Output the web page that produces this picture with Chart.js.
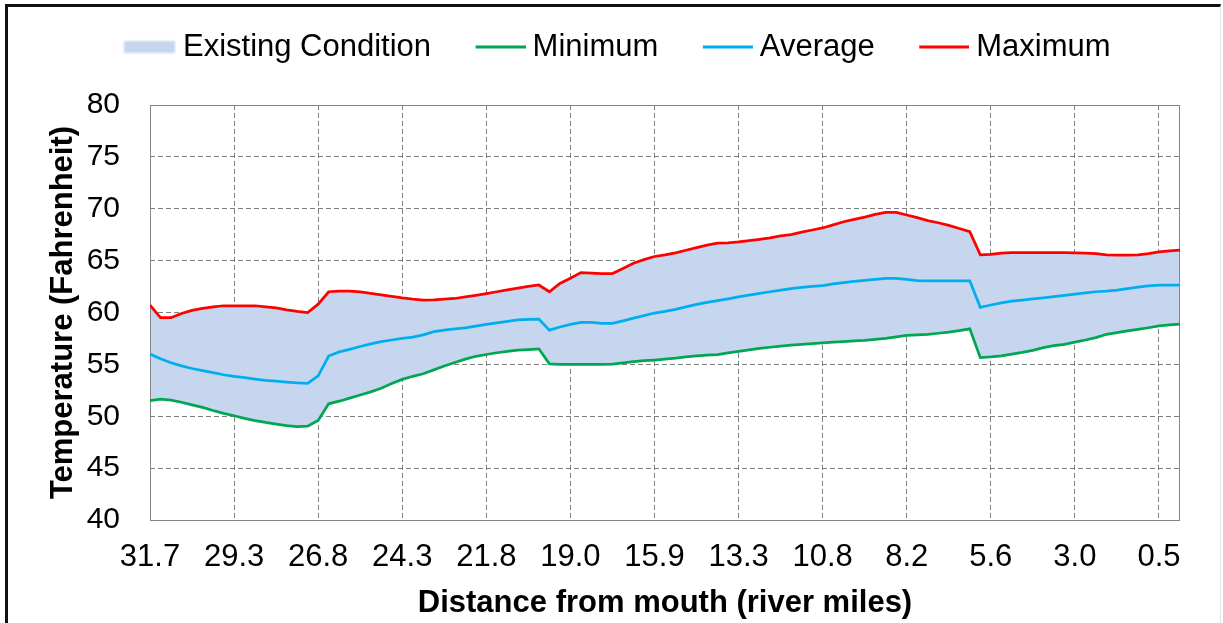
<!DOCTYPE html>
<html>
<head>
<meta charset="utf-8">
<script src="https://cdn.jsdelivr.net/npm/chart.js@4.4.1/dist/chart.umd.min.js"></script>
<style>
  html, body { margin: 0; padding: 0; background: #fff; overflow: hidden; }
  #wrap { position: relative; width: 1223px; height: 623px; }
  #frame { position: absolute; left: 5px; top: 4px; width: 1212px; height: 700px;
           border-top: 3px solid #111; border-left: 3px solid #111; border-right: 1px solid #e4e4e4;
           pointer-events: none; }
  canvas { position: absolute; left: 0; top: 0; }
</style>
</head>
<body>
<div id="wrap">
  <canvas id="chart" width="1223" height="623"></canvas>
  <div id="frame"></div>
</div>
<script>
// river mile labels, one every 8 model points
const tickLabels = ['31.7', '29.3', '26.8', '24.3', '21.8', '19.0', '15.9', '13.3', '10.8', '8.2', '5.6', '3.0', '0.5'];
const pointsPerLabel = 8;

// temperatures (F), one per model point (upstream -> mouth)
const maxTemps = [
  60.7, 59.5, 59.5, 59.9, 60.2, 60.4, 60.55, 60.65, 60.65, 60.65,
  60.65, 60.55, 60.45, 60.25, 60.1, 60.0, 60.8, 62.0, 62.05, 62.05,
  61.98, 61.85, 61.7, 61.55, 61.4, 61.28, 61.2, 61.22, 61.28, 61.35,
  61.5, 61.65, 61.82, 62.0, 62.18, 62.35, 62.52, 62.65, 62.0, 62.8,
  63.3, 63.85, 63.8, 63.75, 63.75, 64.25, 64.74, 65.1, 65.4, 65.55,
  65.75, 66.0, 66.25, 66.5, 66.68, 66.72, 66.8, 66.92, 67.05, 67.2,
  67.38, 67.5, 67.75, 67.95, 68.15, 68.45, 68.75, 68.98, 69.2, 69.45,
  69.65, 69.65, 69.4, 69.15, 68.85, 68.65, 68.4, 68.1, 67.8, 65.55,
  65.6, 65.72, 65.77, 65.77, 65.77, 65.77, 65.77, 65.76, 65.74, 65.72,
  65.68, 65.56, 65.54, 65.54, 65.55, 65.68, 65.85, 65.95, 66.02
];
const avgTemps = [
  56.0, 55.55, 55.15, 54.85, 54.6, 54.4, 54.2, 54.0, 53.85, 53.72,
  53.58, 53.45, 53.38, 53.3, 53.22, 53.18, 53.9, 55.8, 56.2, 56.45,
  56.72, 56.97, 57.2, 57.35, 57.5, 57.62, 57.85, 58.15, 58.3, 58.42,
  58.52, 58.68, 58.85, 59.0, 59.15, 59.28, 59.33, 59.37, 58.3, 58.6,
  58.85, 59.05, 59.05, 58.95, 58.95, 59.2, 59.45, 59.7, 59.95, 60.1,
  60.3, 60.55, 60.78, 60.97, 61.15, 61.32, 61.5, 61.67, 61.85, 62.0,
  62.15, 62.3, 62.42, 62.52, 62.6, 62.75, 62.88, 63.0, 63.1, 63.2,
  63.28, 63.28, 63.2, 63.08, 63.05, 63.05, 63.05, 63.05, 63.05, 60.5,
  60.72, 60.93, 61.1, 61.2, 61.32, 61.42, 61.52, 61.64, 61.78, 61.9,
  62.0, 62.06, 62.15, 62.3, 62.45, 62.56, 62.64, 62.65, 62.65
];
const minTemps = [
  51.5, 51.65, 51.55, 51.35, 51.1, 50.85, 50.55, 50.28, 50.05, 49.8,
  49.58, 49.4, 49.25, 49.1, 49.0, 49.05, 49.6, 51.2, 51.45, 51.75,
  52.05, 52.35, 52.7, 53.15, 53.55, 53.85, 54.1, 54.47, 54.85, 55.18,
  55.5, 55.78, 55.95, 56.12, 56.25, 56.37, 56.43, 56.5, 55.05, 55.0,
  55.0, 55.0, 55.0, 55.0, 55.02, 55.15, 55.26, 55.35, 55.42, 55.5,
  55.6, 55.73, 55.82, 55.88, 55.95, 56.1, 56.25, 56.4, 56.55, 56.65,
  56.75, 56.85, 56.92, 57.0, 57.07, 57.15, 57.2, 57.26, 57.32, 57.42,
  57.5, 57.65, 57.8, 57.85, 57.9, 58.0, 58.1, 58.25, 58.42, 55.65,
  55.72, 55.82, 55.98, 56.15, 56.35, 56.62, 56.8, 56.93, 57.15, 57.35,
  57.58, 57.9, 58.05, 58.22, 58.38, 58.53, 58.7, 58.8, 58.88
];

const seriesNames = ['Existing Condition', 'Minimum', 'Average', 'Maximum'];
const bandColor = '#c6d6ee';
const minColor = '#00a651';
const avgColor = '#00aeef';
const maxColor = '#ff0000';
const fontFamily = '"Liberation Sans", Arial, Helvetica, sans-serif';

const toPoints = arr => arr.map((v, i) => ({ x: i, y: v }));

// legend swatches, drawn into small canvases so the line sits close to its text
function lineSwatch(color) {
  const c = document.createElement('canvas');
  c.width = 87; c.height = 14;
  const g = c.getContext('2d');
  g.strokeStyle = color;
  g.lineWidth = 3;
  g.beginPath();
  g.moveTo(37, 7);
  g.lineTo(87, 7);
  g.stroke();
  return c;
}
function bandSwatch(color) {
  const c = document.createElement('canvas');
  c.width = 87; c.height = 16;
  const g = c.getContext('2d');
  g.filter = 'blur(1px)';
  g.fillStyle = color;
  g.fillRect(35, 2, 51, 12);
  return c;
}

const plotFrame = {
  id: 'plotFrame',
  beforeDatasetsDraw(chart) {
    const { ctx, chartArea: a } = chart;
    ctx.save();
    ctx.strokeStyle = '#868686';
    ctx.lineWidth = 1;
    ctx.strokeRect(Math.round(a.left) + 0.5, Math.round(a.top) + 0.5,
      Math.round(a.right - a.left) - 1, Math.round(a.bottom - a.top));
    ctx.restore();
  }
};

new Chart(document.getElementById('chart'), {
  type: 'line',
  data: {
    datasets: [
      {
        label: seriesNames[0],
        data: toPoints(maxTemps),
        fill: '+1',
        backgroundColor: bandColor,
        borderWidth: 0,
        pointRadius: 0,
        pointStyle: bandSwatch(bandColor)
      },
      {
        label: seriesNames[1],
        data: toPoints(minTemps),
        borderColor: minColor,
        borderWidth: 2.75,
        pointRadius: 0,
        fill: false,
        pointStyle: lineSwatch(minColor)
      },
      {
        label: seriesNames[2],
        data: toPoints(avgTemps),
        borderColor: avgColor,
        borderWidth: 2.75,
        pointRadius: 0,
        fill: false,
        pointStyle: lineSwatch(avgColor)
      },
      {
        label: seriesNames[3],
        data: toPoints(maxTemps),
        borderColor: maxColor,
        borderWidth: 2.75,
        pointRadius: 0,
        fill: false,
        pointStyle: lineSwatch(maxColor)
      }
    ]
  },
  options: {
    responsive: false,
    animation: false,
    devicePixelRatio: 1,
    layout: { padding: { left: 28, right: 43, top: 15.5, bottom: 0 } },
    plugins: {
      filler: { drawTime: 'beforeDatasetsDraw' },
      tooltip: { enabled: false },
      legend: {
        position: 'top',
        labels: {
          usePointStyle: true,
          pointStyleWidth: 70,
          padding: 16,
          color: '#000',
          font: { family: fontFamily, size: 31 }
        }
      },
      // empty title used only as a spacer between legend and plot
      title: {
        display: true,
        text: '',
        weight: 500,
        font: { size: 10 },
        padding: { top: 20.5, bottom: 0 }
      }
    },
    scales: {
      x: {
        type: 'linear',
        min: 0,
        max: maxTemps.length - 1,
        afterFit: s => { s.height = 103; },
        ticks: {
          stepSize: pointsPerLabel,
          includeBounds: false,
          autoSkip: false,
          maxRotation: 0,
          padding: 19,
          color: '#000',
          font: { family: fontFamily, size: 31 },
          callback: v => tickLabels[v / pointsPerLabel]
        },
        grid: { color: '#808080', lineWidth: 1, drawTicks: false },
        border: { display: false, dash: [5, 3] },
        title: {
          display: true,
          text: 'Distance from mouth (river miles)',
          color: '#000',
          font: { family: fontFamily, size: 31, weight: 'bold' },
          padding: { top: 0, bottom: 1.4 }
        }
      },
      y: {
        min: 40,
        max: 80,
        afterFit: s => { s.width = 122; },
        ticks: {
          stepSize: 5,
          padding: 30,
          color: '#000',
          font: { family: fontFamily, size: 30 }
        },
        grid: { color: '#808080', lineWidth: 1, drawTicks: false },
        border: { display: false, dash: [5, 3] },
        title: {
          display: true,
          text: 'Temperature (Fahrenheit)',
          color: '#000',
          font: { family: fontFamily, size: 31, weight: 'bold' },
          padding: { top: 16.6, bottom: 0 }
        }
      }
    }
  },
  plugins: [plotFrame]
});
</script>
</body>
</html>
